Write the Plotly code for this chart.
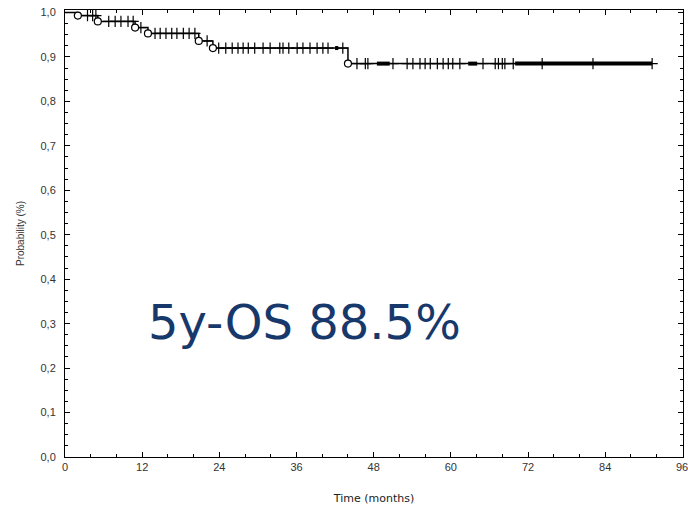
import plotly.graph_objects as go

# Kaplan-Meier steps: event times (months) and survival after each event
event_times = [2.0, 5.1, 10.9, 12.9, 20.8, 23.0, 44.0]
event_surv = [0.993, 0.980, 0.966, 0.953, 0.936, 0.920, 0.885]
follow_up_end = 91.3

# censored observation times (months)
censored_times = [3.5, 4.3, 4.8,
                  6.8, 7.8, 8.7, 9.8, 10.6,
                  11.8,
                  14.0, 14.8, 15.7, 16.6, 17.4, 18.4, 19.3, 20.2,
                  22.1,
                  23.9, 25.0, 26.0, 26.9, 27.7, 28.5, 29.5, 30.8, 31.9, 33.4, 33.9,
                  34.8, 36.1, 37.0, 38.1, 39.2, 40.1, 40.9, 43.2,
                  45.4, 46.7, 47.1, 51.0, 53.2, 54.1, 55.2, 56.0, 56.8, 57.9, 58.8,
                  59.6, 60.3, 61.4, 65.0, 66.9, 67.4, 68.0, 68.4, 69.7, 74.2, 82.1, 91.3]

# intervals with very dense censoring (drawn as a thick bar)
dense_censoring = [(42.0, 42.5), (48.5, 50.5), (62.7, 64.1), (70.0, 91.3)]

x_ticks = [0, 12, 24, 36, 48, 60, 72, 84, 96]
y_ticks = [0.0, 0.1, 0.2, 0.3, 0.4, 0.5, 0.6, 0.7, 0.8, 0.9, 1.0]
y_tick_labels = ["0,0", "0,1", "0,2", "0,3", "0,4", "0,5", "0,6", "0,7", "0,8", "0,9", "1,0"]

tick_font = dict(family="Liberation Sans, Arial", size=11, color="#333333")


def surv_at(t):
    s = 1.0
    for et, es in zip(event_times, event_surv):
        if t >= et:
            s = es
    return s


# step line
sx, sy = [0.0], [1.0]
for et, es in zip(event_times, event_surv):
    sx += [et, et]
    sy += [sy[-1], es]
sx.append(follow_up_end)
sy.append(sy[-1])

fig = go.Figure()
fig.add_trace(go.Scatter(x=sx, y=sy, mode="lines",
                         line=dict(color="black", width=1.5), hoverinfo="skip"))

for a, b in dense_censoring:
    lv = surv_at(a)
    fig.add_trace(go.Scatter(x=[a, b], y=[lv, lv], mode="lines",
                             line=dict(color="black", width=4), hoverinfo="skip"))

fig.add_trace(go.Scatter(x=censored_times, y=[surv_at(t) for t in censored_times],
                         mode="markers",
                         marker=dict(symbol="cross-thin-open", size=8, color="black",
                                     line=dict(color="black", width=1.2)),
                         hoverinfo="skip"))

fig.add_trace(go.Scatter(x=event_times, y=event_surv, mode="markers",
                         marker=dict(symbol="circle", size=7, color="white",
                                     line=dict(color="black", width=1.2)),
                         hoverinfo="skip"))

fig.add_annotation(x=37.3, y=0.304, xref="x", yref="y", text="5y-OS 88.5%",
                   showarrow=False, xanchor="center", yanchor="middle",
                   font=dict(family="DejaVu Sans", size=48, color="#17386b"))

# last x tick label (partly cut off at the page edge in the reference)
fig.add_annotation(x=x_ticks[-1], y=0, xref="x", yref="paper", text=str(x_ticks[-1]),
                   showarrow=False, xanchor="center", yanchor="top", yshift=-2,
                   font=tick_font)

axis_common = dict(showline=True, linecolor="black", linewidth=1, mirror="allticks",
                   ticks="inside", ticklen=5, tickcolor="black", tickwidth=1,
                   showgrid=False, zeroline=False, tickfont=tick_font)

fig.update_xaxes(range=[0, 96.1], tickvals=x_ticks, ticktext=[str(v) for v in x_ticks],
                 minor=dict(ticks="inside", ticklen=3, dtick=4, tick0=0, tickcolor="black"),
                 title=dict(text="Time (months)", standoff=22,
                            font=dict(family="DejaVu Sans", size=11, color="#222222")),
                 **axis_common)
fig.update_yaxes(range=[0, 1.0056], tickvals=y_ticks, ticktext=y_tick_labels,
                 minor=dict(ticks="inside", ticklen=3, dtick=0.025, tick0=0, tickcolor="black"),
                 ticklabelstandoff=6,
                 title=dict(text="Probability (%)", standoff=14,
                            font=dict(family="Liberation Sans, Arial", size=10, color="#333333")),
                 **axis_common)

fig.update_layout(width=688, height=509, showlegend=False,
                  paper_bgcolor="white", plot_bgcolor="white",
                  margin=dict(l=65, r=5, t=10, b=52))

fig.write_html("out.html")
